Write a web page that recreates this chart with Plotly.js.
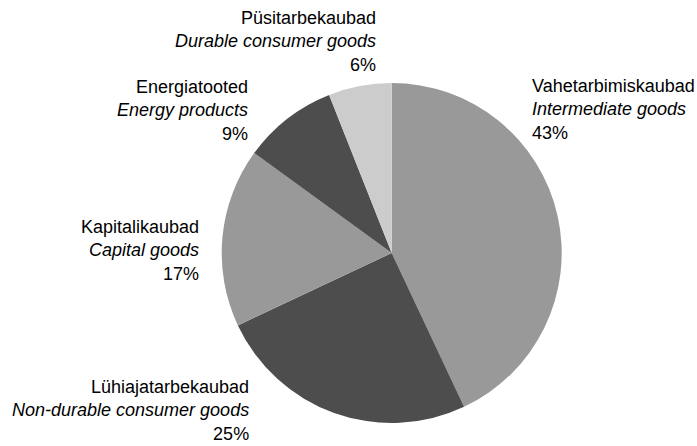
<!DOCTYPE html>
<html>
<head>
<meta charset="utf-8">
<script src="https://cdn.plot.ly/plotly-3.0.1.min.js"></script>
<style>html,body{margin:0;padding:0;background:#fff}</style>
</head>
<body>
<div id="chart" style="width:697px;height:446px"></div>
<script>
// Data
const labelsEt = ["Vahetarbimiskaubad", "Lühiajatarbekaubad", "Kapitalikaubad", "Energiatooted", "Püsitarbekaubad"];
const labelsEn = ["Intermediate goods", "Non-durable consumer goods", "Capital goods", "Energy products", "Durable consumer goods"];
const values = [43, 25, 17, 9, 6];
const colors = ["#999999", "#4d4d4d", "#999999", "#4d4d4d", "#cccccc"];

// Label placement (pixels in the 697x446 canvas): [x, yMiddle, xanchor]
const labelPos = [
  [530, 109, "left"],
  [251, 410, "right"],
  [201, 251, "right"],
  [250, 110, "right"],
  [378, 41, "right"]
];

const W = 697, H = 446;
const font = {family: "'Liberation Sans', Arial, sans-serif", size: 18, color: "#000"};

const annotations = labelsEt.map((et, i) => ({
  xref: "paper", yref: "paper",
  x: labelPos[i][0] / W, y: 1 - labelPos[i][1] / H,
  xanchor: labelPos[i][2], yanchor: "middle",
  align: labelPos[i][2],
  showarrow: false,
  text: et + "<br><i>" + labelsEn[i] + "</i><br>" + values[i] + "%",
  font: font
}));

const trace = {
  type: "pie",
  values: values,
  labels: labelsEt,
  sort: false,
  direction: "clockwise",
  rotation: 0,
  marker: {colors: colors, line: {width: 0}},
  textinfo: "none",
  hoverinfo: "none",
  domain: {x: [221.7 / W, 561.7 / W], y: [(H - 423) / H, (H - 83) / H]}
};

Plotly.newPlot("chart", [trace], {
  width: W, height: H,
  margin: {l: 0, r: 0, t: 0, b: 0},
  showlegend: false,
  paper_bgcolor: "#fff",
  font: font,
  annotations: annotations
}, {displayModeBar: false, staticPlot: true});
</script>
</body>
</html>
